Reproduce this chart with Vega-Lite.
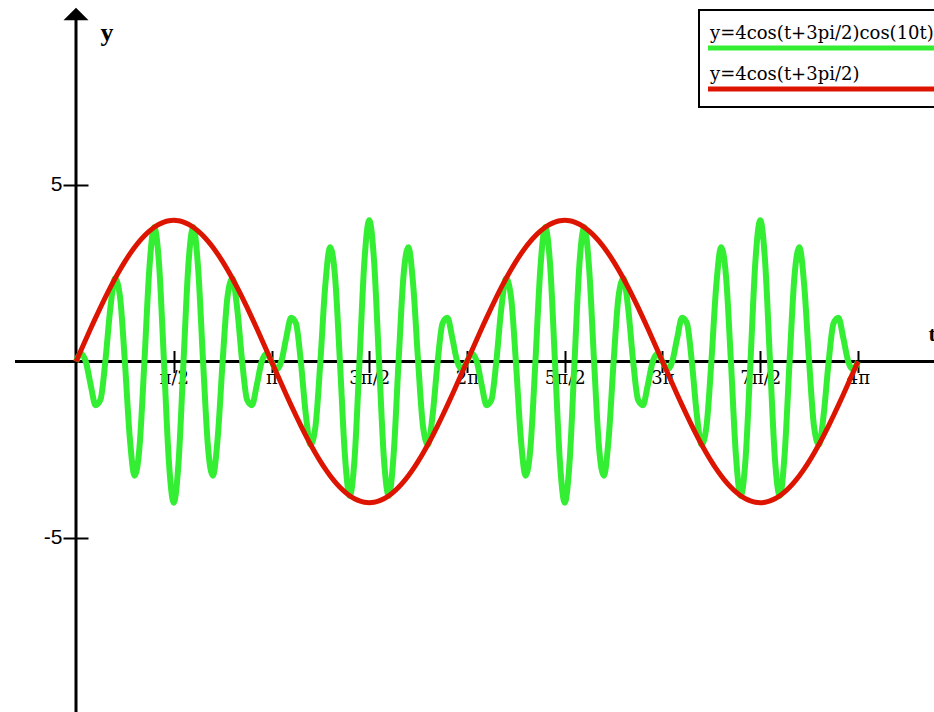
{
  "$schema": "https://vega.github.io/schema/vega-lite/v6.json",
  "width": 934,
  "height": 712,
  "autosize": {"type": "none"},
  "padding": 0,
  "background": "white",
  "config": {"view": {"stroke": null}, "legend": {"strokeWidth": 2}},
  "resolve": {"axis": {"x": "independent", "y": "independent"}},
  "data": {"values": [
    {"tpi":0,"g":0,"r":0},{"tpi":0.025,"g":0.2219,"r":0.3138},{"tpi":0.05,"g":0,"r":0.6257},{"tpi":0.075,"g":-0.6603,"r":0.9338},{"tpi":0.1,"g":-1.2361,"r":1.2361},{"tpi":0.125,"g":-1.0824,"r":1.5307},{"tpi":0.15,"g":0,"r":1.816},{"tpi":0.175,"g":1.4779,"r":2.09},{"tpi":0.2,"g":2.3511,"r":2.3511},{"tpi":0.225,"g":1.8369,"r":2.5978},
    {"tpi":0.25,"g":0,"r":2.8284},{"tpi":0.275,"g":-2.1508,"r":3.0416},{"tpi":0.3,"g":-3.2361,"r":3.2361},{"tpi":0.325,"g":-2.4116,"r":3.4106},{"tpi":0.35,"g":0,"r":3.564},{"tpi":0.375,"g":2.6131,"r":3.6955},{"tpi":0.4,"g":3.8042,"r":3.8042},{"tpi":0.425,"g":2.7503,"r":3.8895},{"tpi":0.45,"g":0,"r":3.9508},{"tpi":0.475,"g":-2.8197,"r":3.9877},
    {"tpi":0.5,"g":-4,"r":4},{"tpi":0.525,"g":-2.8197,"r":3.9877},{"tpi":0.55,"g":0,"r":3.9508},{"tpi":0.575,"g":2.7503,"r":3.8895},{"tpi":0.6,"g":3.8042,"r":3.8042},{"tpi":0.625,"g":2.6131,"r":3.6955},{"tpi":0.65,"g":0,"r":3.564},{"tpi":0.675,"g":-2.4116,"r":3.4106},{"tpi":0.7,"g":-3.2361,"r":3.2361},{"tpi":0.725,"g":-2.1508,"r":3.0416},
    {"tpi":0.75,"g":0,"r":2.8284},{"tpi":0.775,"g":1.8369,"r":2.5978},{"tpi":0.8,"g":2.3511,"r":2.3511},{"tpi":0.825,"g":1.4779,"r":2.09},{"tpi":0.85,"g":0,"r":1.816},{"tpi":0.875,"g":-1.0824,"r":1.5307},{"tpi":0.9,"g":-1.2361,"r":1.2361},{"tpi":0.925,"g":-0.6603,"r":0.9338},{"tpi":0.95,"g":0,"r":0.6257},{"tpi":0.975,"g":0.2219,"r":0.3138},
    {"tpi":1,"g":0,"r":0},{"tpi":1.025,"g":-0.2219,"r":-0.3138},{"tpi":1.05,"g":0,"r":-0.6257},{"tpi":1.075,"g":0.6603,"r":-0.9338},{"tpi":1.1,"g":1.2361,"r":-1.2361},{"tpi":1.125,"g":1.0824,"r":-1.5307},{"tpi":1.15,"g":0,"r":-1.816},{"tpi":1.175,"g":-1.4779,"r":-2.09},{"tpi":1.2,"g":-2.3511,"r":-2.3511},{"tpi":1.225,"g":-1.8369,"r":-2.5978},
    {"tpi":1.25,"g":0,"r":-2.8284},{"tpi":1.275,"g":2.1508,"r":-3.0416},{"tpi":1.3,"g":3.2361,"r":-3.2361},{"tpi":1.325,"g":2.4116,"r":-3.4106},{"tpi":1.35,"g":0,"r":-3.564},{"tpi":1.375,"g":-2.6131,"r":-3.6955},{"tpi":1.4,"g":-3.8042,"r":-3.8042},{"tpi":1.425,"g":-2.7503,"r":-3.8895},{"tpi":1.45,"g":0,"r":-3.9508},{"tpi":1.475,"g":2.8197,"r":-3.9877},
    {"tpi":1.5,"g":4,"r":-4},{"tpi":1.525,"g":2.8197,"r":-3.9877},{"tpi":1.55,"g":0,"r":-3.9508},{"tpi":1.575,"g":-2.7503,"r":-3.8895},{"tpi":1.6,"g":-3.8042,"r":-3.8042},{"tpi":1.625,"g":-2.6131,"r":-3.6955},{"tpi":1.65,"g":0,"r":-3.564},{"tpi":1.675,"g":2.4116,"r":-3.4106},{"tpi":1.7,"g":3.2361,"r":-3.2361},{"tpi":1.725,"g":2.1508,"r":-3.0416},
    {"tpi":1.75,"g":0,"r":-2.8284},{"tpi":1.775,"g":-1.8369,"r":-2.5978},{"tpi":1.8,"g":-2.3511,"r":-2.3511},{"tpi":1.825,"g":-1.4779,"r":-2.09},{"tpi":1.85,"g":0,"r":-1.816},{"tpi":1.875,"g":1.0824,"r":-1.5307},{"tpi":1.9,"g":1.2361,"r":-1.2361},{"tpi":1.925,"g":0.6603,"r":-0.9338},{"tpi":1.95,"g":0,"r":-0.6257},{"tpi":1.975,"g":-0.2219,"r":-0.3138},
    {"tpi":2,"g":0,"r":0},{"tpi":2.025,"g":0.2219,"r":0.3138},{"tpi":2.05,"g":0,"r":0.6257},{"tpi":2.075,"g":-0.6603,"r":0.9338},{"tpi":2.1,"g":-1.2361,"r":1.2361},{"tpi":2.125,"g":-1.0824,"r":1.5307},{"tpi":2.15,"g":0,"r":1.816},{"tpi":2.175,"g":1.4779,"r":2.09},{"tpi":2.2,"g":2.3511,"r":2.3511},{"tpi":2.225,"g":1.8369,"r":2.5978},
    {"tpi":2.25,"g":0,"r":2.8284},{"tpi":2.275,"g":-2.1508,"r":3.0416},{"tpi":2.3,"g":-3.2361,"r":3.2361},{"tpi":2.325,"g":-2.4116,"r":3.4106},{"tpi":2.35,"g":0,"r":3.564},{"tpi":2.375,"g":2.6131,"r":3.6955},{"tpi":2.4,"g":3.8042,"r":3.8042},{"tpi":2.425,"g":2.7503,"r":3.8895},{"tpi":2.45,"g":0,"r":3.9508},{"tpi":2.475,"g":-2.8197,"r":3.9877},
    {"tpi":2.5,"g":-4,"r":4},{"tpi":2.525,"g":-2.8197,"r":3.9877},{"tpi":2.55,"g":0,"r":3.9508},{"tpi":2.575,"g":2.7503,"r":3.8895},{"tpi":2.6,"g":3.8042,"r":3.8042},{"tpi":2.625,"g":2.6131,"r":3.6955},{"tpi":2.65,"g":0,"r":3.564},{"tpi":2.675,"g":-2.4116,"r":3.4106},{"tpi":2.7,"g":-3.2361,"r":3.2361},{"tpi":2.725,"g":-2.1508,"r":3.0416},
    {"tpi":2.75,"g":0,"r":2.8284},{"tpi":2.775,"g":1.8369,"r":2.5978},{"tpi":2.8,"g":2.3511,"r":2.3511},{"tpi":2.825,"g":1.4779,"r":2.09},{"tpi":2.85,"g":0,"r":1.816},{"tpi":2.875,"g":-1.0824,"r":1.5307},{"tpi":2.9,"g":-1.2361,"r":1.2361},{"tpi":2.925,"g":-0.6603,"r":0.9338},{"tpi":2.95,"g":0,"r":0.6257},{"tpi":2.975,"g":0.2219,"r":0.3138},
    {"tpi":3,"g":0,"r":0},{"tpi":3.025,"g":-0.2219,"r":-0.3138},{"tpi":3.05,"g":0,"r":-0.6257},{"tpi":3.075,"g":0.6603,"r":-0.9338},{"tpi":3.1,"g":1.2361,"r":-1.2361},{"tpi":3.125,"g":1.0824,"r":-1.5307},{"tpi":3.15,"g":0,"r":-1.816},{"tpi":3.175,"g":-1.4779,"r":-2.09},{"tpi":3.2,"g":-2.3511,"r":-2.3511},{"tpi":3.225,"g":-1.8369,"r":-2.5978},
    {"tpi":3.25,"g":0,"r":-2.8284},{"tpi":3.275,"g":2.1508,"r":-3.0416},{"tpi":3.3,"g":3.2361,"r":-3.2361},{"tpi":3.325,"g":2.4116,"r":-3.4106},{"tpi":3.35,"g":0,"r":-3.564},{"tpi":3.375,"g":-2.6131,"r":-3.6955},{"tpi":3.4,"g":-3.8042,"r":-3.8042},{"tpi":3.425,"g":-2.7503,"r":-3.8895},{"tpi":3.45,"g":0,"r":-3.9508},{"tpi":3.475,"g":2.8197,"r":-3.9877},
    {"tpi":3.5,"g":4,"r":-4},{"tpi":3.525,"g":2.8197,"r":-3.9877},{"tpi":3.55,"g":0,"r":-3.9508},{"tpi":3.575,"g":-2.7503,"r":-3.8895},{"tpi":3.6,"g":-3.8042,"r":-3.8042},{"tpi":3.625,"g":-2.6131,"r":-3.6955},{"tpi":3.65,"g":0,"r":-3.564},{"tpi":3.675,"g":2.4116,"r":-3.4106},{"tpi":3.7,"g":3.2361,"r":-3.2361},{"tpi":3.725,"g":2.1508,"r":-3.0416},
    {"tpi":3.75,"g":0,"r":-2.8284},{"tpi":3.775,"g":-1.8369,"r":-2.5978},{"tpi":3.8,"g":-2.3511,"r":-2.3511},{"tpi":3.825,"g":-1.4779,"r":-2.09},{"tpi":3.85,"g":0,"r":-1.816},{"tpi":3.875,"g":1.0824,"r":-1.5307},{"tpi":3.9,"g":1.2361,"r":-1.2361},{"tpi":3.925,"g":0.6603,"r":-0.9338},{"tpi":3.95,"g":0,"r":-0.6257},{"tpi":3.975,"g":-0.2219,"r":-0.3138},
    {"tpi":4,"g":0,"r":0}
  ]},
  "layer": [
    {
      "data": {"values": [{}]},
      "mark": {"type": "rule", "color": "black", "strokeWidth": 3},
      "encoding": {
        "x": {"datum": -0.312, "type": "quantitative", "scale": {"domain": [-0.38875, 4.38875], "nice": false, "zero": false}, "axis": null},
        "x2": {"datum": 4.4},
        "y": {"datum": 0, "type": "quantitative", "scale": {"domain": [-9.9292, 10.2408], "nice": false, "zero": false}, "axis": null}
      }
    },
    {
      "data": {"values": [{}]},
      "mark": {"type": "rule", "color": "black", "strokeWidth": 3},
      "encoding": {
        "x": {"datum": 0, "type": "quantitative", "scale": {"domain": [-0.38875, 4.38875], "nice": false, "zero": false}, "axis": null},
        "y": {"datum": -9.95, "type": "quantitative", "scale": {"domain": [-9.9292, 10.2408], "nice": false, "zero": false}, "axis": null},
        "y2": {"datum": 9.674}
      }
    },
    {
      "data": {"values": [{}]},
      "mark": {"type": "point", "shape": "M-1,0.5L0,-0.5L1,0.5Z", "size": 625, "filled": true, "color": "black", "opacity": 1},
      "encoding": {
        "x": {"datum": 0, "type": "quantitative", "scale": {"domain": [-0.38875, 4.38875], "nice": false, "zero": false}, "axis": null},
        "y": {"datum": 9.844, "type": "quantitative", "scale": {"domain": [-9.9292, 10.2408], "nice": false, "zero": false}, "axis": null}
      }
    },
    {
      "mark": {"type": "line", "interpolate": "monotone", "strokeWidth": 6},
      "encoding": {
        "x": {"field": "tpi", "type": "quantitative", "scale": {"domain": [-0.38875, 4.38875], "nice": false, "zero": false},
          "axis": {"orient": "bottom", "offset": -350.5, "values": [0.5, 1, 1.5, 2, 2.5, 3, 3.5, 4],
            "labelExpr": "['π/2','π','3π/2','2π','5π/2','3π','7π/2','4π'][round(datum.value*2)-1]",
            "domain": false, "grid": false, "ticks": true, "tickSize": 11, "tickWidth": 2, "tickColor": "black",
            "labelFont": "DejaVu Serif", "labelFontSize": 18, "labelColor": "black", "labelPadding": -3,
            "labelOverlap": false, "labelFlush": false, "labelBound": false,
            "title": "t", "titleX": 928, "titleY": -21, "titleAlign": "left", "titleBaseline": "alphabetic", "titleAngle": 0,
            "titleFont": "Liberation Serif", "titleFontSize": 22, "titleFontWeight": "bold", "titleColor": "black"}},
        "y": {"field": "g", "type": "quantitative", "scale": {"domain": [-9.9292, 10.2408], "nice": false, "zero": false},
          "axis": {"orient": "left", "offset": -76, "values": [-5, 5], "labelExpr": "datum.value > 0 ? '5' : '-5'",
            "domain": false, "grid": false, "tickSize": 13, "tickWidth": 2, "tickColor": "black",
            "labelFont": "Liberation Sans", "labelFontSize": 21, "labelColor": "black", "labelPadding": 1, "labelOverlap": false,
            "title": "y", "titleAngle": 0, "titleX": 24, "titleY": 40, "titleAlign": "left", "titleBaseline": "alphabetic",
            "titleFont": "Liberation Serif", "titleFontSize": 26, "titleFontWeight": "bold", "titleColor": "black"}},
        "color": {"datum": "g", "type": "nominal",
          "scale": {"domain": ["g", "r"], "range": ["#33ee33", "#dd1500"]},
          "legend": {"orient": "none", "legendX": 699, "legendY": 10, "title": " ", "titleFontSize": 4, "titlePadding": 8, "direction": "vertical",
            "symbolType": "M-24,1.8H24", "symbolSize": 100, "symbolStrokeWidth": 5, "symbolOffset": 112, "labelOffset": -127,
            "labelFont": "DejaVu Serif", "labelFontSize": 18, "labelColor": "black", "labelBaseline": "alphabetic", "labelLimit": 600,
            "rowPadding": 8, "padding": 8, "strokeColor": "black", "fillColor": "white",
            "labelExpr": "datum.value == 'g' ? 'y=4cos(t+3pi/2)cos(10t)' : 'y=4cos(t+3pi/2)'"}}
      }
    },
    {
      "mark": {"type": "line", "interpolate": "monotone", "strokeWidth": 5},
      "encoding": {
        "x": {"field": "tpi", "type": "quantitative", "scale": {"domain": [-0.38875, 4.38875], "nice": false, "zero": false},
          "axis": {"orient": "top", "offset": -361.5, "values": [0.5, 1, 1.5, 2, 2.5, 3, 3.5, 4], "labels": false,
            "domain": false, "grid": false, "tickSize": 11, "tickWidth": 2, "tickColor": "black", "title": null}},
        "y": {"field": "r", "type": "quantitative", "scale": {"domain": [-9.9292, 10.2408], "nice": false, "zero": false},
          "axis": {"orient": "right", "offset": -858, "values": [-5, 5], "labels": false,
            "domain": false, "grid": false, "tickSize": 12, "tickWidth": 2, "tickColor": "black", "title": null}},
        "color": {"datum": "r", "type": "nominal", "scale": {"domain": ["g", "r"], "range": ["#33ee33", "#dd1500"]}}
      }
    }
  ]
}
